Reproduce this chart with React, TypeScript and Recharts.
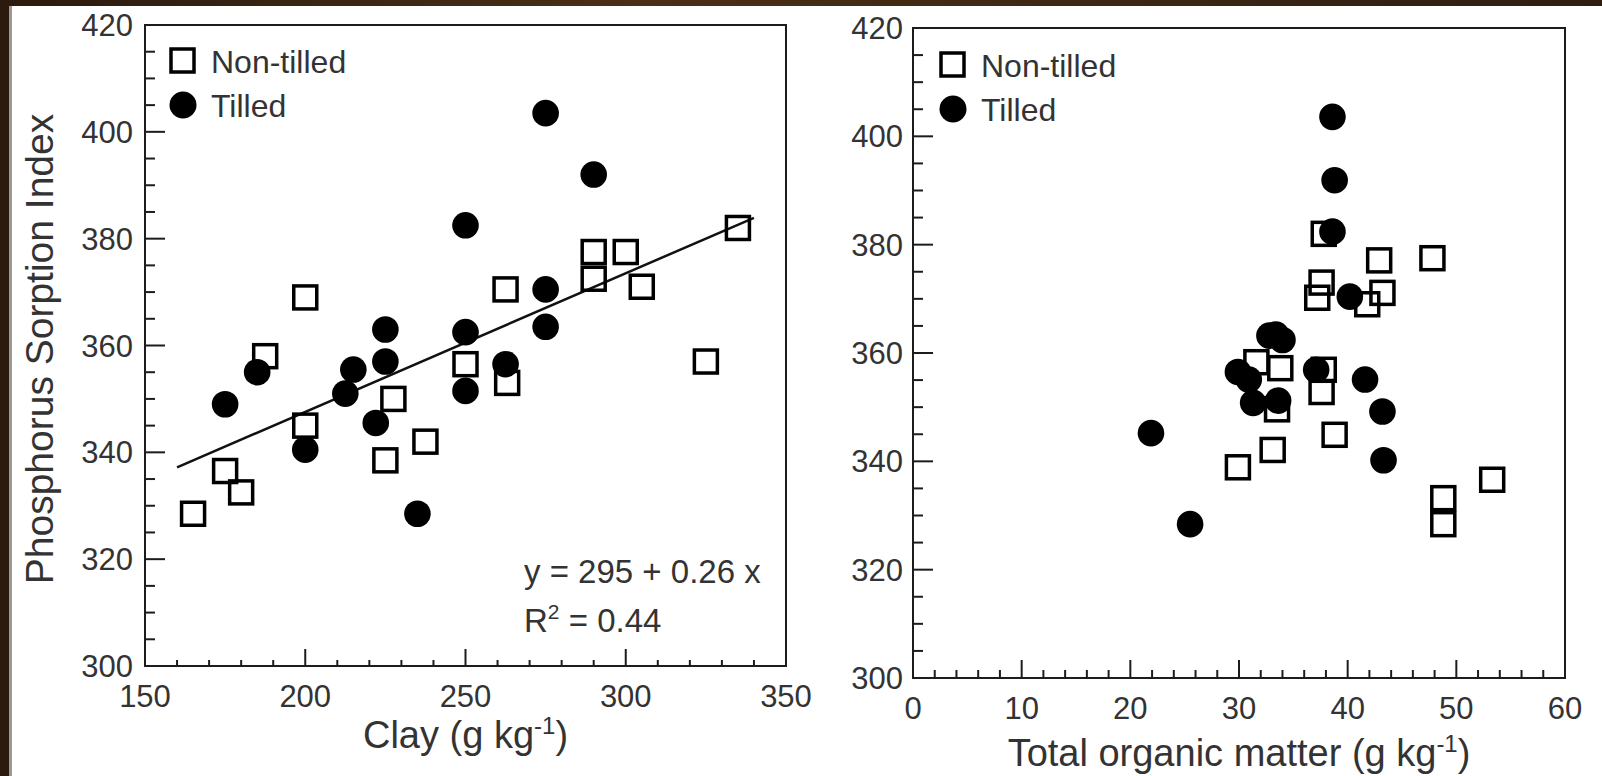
import { ScatterChart, Scatter, XAxis, YAxis, ReferenceLine, ReferenceArea, Legend, Customized } from "recharts"

const seriesNames = ["Non-tilled", "Tilled"]

// left panel: clay vs PSI
const clayNonTilled = [
    { x: 165, y: 328.5 }, { x: 175, y: 336.5 }, { x: 180, y: 332.5 }, { x: 187.5, y: 358 },
    { x: 200, y: 369 }, { x: 200, y: 345 }, { x: 225, y: 338.5 }, { x: 227.5, y: 350 },
    { x: 237.5, y: 342 }, { x: 250, y: 356.5 }, { x: 262.5, y: 370.5 }, { x: 263, y: 353 },
    { x: 290, y: 377.5 }, { x: 290, y: 372.5 }, { x: 300, y: 377.5 }, { x: 305, y: 371 },
    { x: 325, y: 357 }, { x: 335, y: 382 },
]
const clayTilled = [
    { x: 175, y: 349 }, { x: 185, y: 355 }, { x: 200, y: 340.5 }, { x: 212.5, y: 351 },
    { x: 215, y: 355.5 }, { x: 222, y: 345.5 }, { x: 225, y: 363 }, { x: 225, y: 357 },
    { x: 235, y: 328.5 }, { x: 250, y: 382.5 }, { x: 250, y: 362.5 }, { x: 250, y: 351.5 },
    { x: 262.5, y: 356.5 }, { x: 275, y: 403.5 }, { x: 275, y: 370.5 }, { x: 275, y: 363.5 },
    { x: 290, y: 392 },
]
// fitted line end points
const clayFit = [{ x: 160, y: 337.2 }, { x: 340, y: 383.9 }]

// right panel: total organic matter vs PSI
const tomNonTilled = [
    { x: 37.8, y: 382 }, { x: 37.6, y: 373 }, { x: 37.2, y: 370.2 }, { x: 42.9, y: 377.1 },
    { x: 47.8, y: 377.5 }, { x: 43.2, y: 371.1 }, { x: 41.8, y: 369 }, { x: 31.6, y: 358.3 },
    { x: 33.8, y: 357.2 }, { x: 33.5, y: 349.6 }, { x: 37.8, y: 356.9 }, { x: 37.6, y: 352.8 },
    { x: 38.8, y: 344.9 }, { x: 33.1, y: 342.1 }, { x: 29.9, y: 338.9 }, { x: 53.3, y: 336.6 },
    { x: 48.8, y: 333.2 }, { x: 48.8, y: 328.4 },
]
const tomTilled = [
    { x: 38.6, y: 403.6 }, { x: 38.8, y: 391.9 }, { x: 38.6, y: 382.4 }, { x: 40.2, y: 370.4 },
    { x: 32.8, y: 363.2 }, { x: 33.4, y: 363.4 }, { x: 34.0, y: 362.4 }, { x: 29.9, y: 356.5 },
    { x: 30.9, y: 355.1 }, { x: 31.3, y: 350.8 }, { x: 33.6, y: 351.2 }, { x: 37.1, y: 356.9 },
    { x: 41.6, y: 355.1 }, { x: 43.2, y: 349.2 }, { x: 43.3, y: 340.2 }, { x: 21.9, y: 345.2 },
    { x: 25.5, y: 328.4 },
]

const psiTicks = [300, 305, 310, 315, 320, 325, 330, 335, 340, 345, 350, 355, 360, 365, 370, 375, 380, 385, 390, 395, 400, 405, 410, 415, 420]
const psiLabels = [300, 320, 340, 360, 380, 400, 420]
const clayTicks = [150, 160, 170, 180, 190, 200, 210, 220, 230, 240, 250, 260, 270, 280, 290, 300, 310, 320, 330, 340, 350]
const clayLabels = [150, 200, 250, 300, 350]
const tomTicks = [0, 2, 4, 6, 8, 10, 12, 14, 16, 18, 20, 22, 24, 26, 28, 30, 32, 34, 36, 38, 40, 42, 44, 46, 48, 50, 52, 54, 56, 58, 60]
const tomLabels = [0, 10, 20, 30, 40, 50, 60]

const FONT = "'Liberation Sans', Arial, Helvetica, sans-serif"
const INK = "#1c1c1c"
const TXT = "#333"

const makeXTick = (labels: number[], majorLen: number, minorLen: number) => (props: any) => {
    const { x, y, payload } = props
    const major = labels.includes(payload.value)
    return (
        <g>
            <line x1={x} x2={x} y1={y} y2={y - (major ? majorLen : minorLen)} stroke={INK} strokeWidth={2} />
            {major && (
                <text x={x} y={y + 41} textAnchor="middle" fontSize={31} fontFamily={FONT} fill={TXT}>
                    {payload.value}
                </text>
            )}
        </g>
    )
}

const makeYTick = (labels: number[], gap: number) => (props: any) => {
    const { x, y, payload } = props
    const major = labels.includes(payload.value)
    return (
        <g>
            <line x1={x} x2={x + (major ? 20 : 10)} y1={y} y2={y} stroke={INK} strokeWidth={2} />
            {major && (
                <text x={x - gap} y={y} dy="0.36em" textAnchor="end" fontSize={31} fontFamily={FONT} fill={TXT}>
                    {payload.value}
                </text>
            )}
        </g>
    )
}

const Square = (props: any) => {
    const { cx, cy } = props
    return <rect x={cx - 11.5} y={cy - 11.5} width={23} height={23} fill="none" stroke="#000" strokeWidth={3.5} />
}

const Dot = (props: any) => {
    const { cx, cy } = props
    return <circle cx={cx} cy={cy} r={13.3} fill="#000" />
}

const LegendBox = () => (
    <svg width={320} height={90} style={{ display: "block", overflow: "visible" }}>
        <rect x={2} y={2} width={23} height={23} fill="none" stroke="#000" strokeWidth={3.5} />
        <text x={42} y={26} fontSize={32} fontFamily={FONT} fill={TXT}>{seriesNames[0]}</text>
        <circle cx={14} cy={58} r={13.5} fill="#000" />
        <text x={42} y={70} fontSize={32} fontFamily={FONT} fill={TXT}>{seriesNames[1]}</text>
    </svg>
)

const xTitle = (text: string, dyBase: number) => (props: any) => {
    const { x, y, width } = props.viewBox
    return (
        <text x={x + width / 2} y={y + dyBase} textAnchor="middle" fontSize={38} fontFamily={FONT} fill={TXT}>
            {text}
            <tspan dy={-14} fontSize={24}>-1</tspan>
            <tspan dy={14}>)</tspan>
        </text>
    )
}

const yTitle = () => {
    const cx = 39
    const cy = 349
    return (
        <text x={cx} y={cy} transform={`rotate(-90, ${cx}, ${cy})`} textAnchor="middle" dy="0.36em" fontSize={39} fontFamily={FONT} fill={TXT}>
            Phosphorus Sorption Index
        </text>
    )
}

const Equation = () => (
    <g>
        <text x={524} y={583} fontSize={33} fontFamily={FONT} fill={TXT}>y = 295 + 0.26 x</text>
        <text x={524} y={632} fontSize={33} fontFamily={FONT} fill={TXT}>
            R<tspan dy={-13} fontSize={21}>2</tspan><tspan dy={13}> = 0.44</tspan>
        </text>
    </g>
)

export default function App() {
    return (
        <div style={{ position: "absolute", left: 0, top: 0, width: 1602, height: 776, background: "linear-gradient(90deg, #2b1a0d, #4a2f18 40%, #2f1d0f)", overflow: "hidden", fontFamily: FONT }}>
            <div style={{ position: "absolute", left: 9, top: 6, width: 3, bottom: 0, background: "#9a9a9a" }} />
            <div style={{ position: "absolute", left: 12, top: 6, right: 0, bottom: 0, background: "#fff" }} />

            <div style={{ position: "absolute", left: 0, top: 0 }}>
                <ScatterChart width={840} height={776} margin={{ top: 25, right: 54, bottom: 0, left: 0 }}>
                    <XAxis type="number" dataKey="x" domain={[150, 350]} ticks={clayTicks} interval={0}
                        tickSize={0} tickMargin={0} tickLine={false} height={110}
                        axisLine={{ stroke: INK, strokeWidth: 2 }} tick={makeXTick(clayLabels, 17, 6)}
                        label={xTitle("Clay (g kg", 82)} allowDataOverflow />
                    <YAxis type="number" dataKey="y" domain={[300, 420]} ticks={psiTicks} interval={0}
                        tickSize={0} tickMargin={0} tickLine={false} width={145}
                        axisLine={{ stroke: INK, strokeWidth: 2 }} tick={makeYTick(psiLabels, 12)}
                        label={yTitle} allowDataOverflow />
                    <ReferenceArea x1={150} x2={350} y1={300} y2={420} fill="none" stroke={INK} strokeWidth={2} ifOverflow="visible" />
                    <ReferenceLine segment={clayFit} stroke="#111" strokeWidth={2.5} ifOverflow="visible" />
                    <Scatter name={seriesNames[0]} data={clayNonTilled} shape={Square} isAnimationActive={false} />
                    <Scatter name={seriesNames[1]} data={clayTilled} shape={Dot} isAnimationActive={false} />
                    <Legend layout="vertical" align="center" verticalAlign="middle" content={LegendBox}
                        wrapperStyle={{ left: 169, top: 47, width: 320 }} />
                    <Customized component={Equation} />
                </ScatterChart>
            </div>

            <div style={{ position: "absolute", left: 800, top: 0 }}>
                <ScatterChart width={802} height={776} margin={{ top: 28, right: 37, bottom: 0, left: 0 }}>
                    <XAxis type="number" dataKey="x" domain={[0, 60]} ticks={tomTicks} interval={0}
                        tickSize={0} tickMargin={0} tickLine={false} height={98}
                        axisLine={{ stroke: INK, strokeWidth: 2 }} tick={makeXTick(tomLabels, 18, 8)}
                        label={xTitle("Total organic matter (g kg", 88)} allowDataOverflow />
                    <YAxis type="number" dataKey="y" domain={[300, 420]} ticks={psiTicks} interval={0}
                        tickSize={0} tickMargin={0} tickLine={false} width={113}
                        axisLine={{ stroke: INK, strokeWidth: 2 }} tick={makeYTick(psiLabels, 10)} allowDataOverflow />
                    <ReferenceArea x1={0} x2={60} y1={300} y2={420} fill="none" stroke={INK} strokeWidth={2} ifOverflow="visible" />
                    <Scatter name={seriesNames[0]} data={tomNonTilled} shape={Square} isAnimationActive={false} />
                    <Scatter name={seriesNames[1]} data={tomTilled} shape={Dot} isAnimationActive={false} />
                    <Legend layout="vertical" align="center" verticalAlign="middle" content={LegendBox}
                        wrapperStyle={{ left: 139, top: 51, width: 320 }} />
                </ScatterChart>
            </div>
        </div>
    )
}
